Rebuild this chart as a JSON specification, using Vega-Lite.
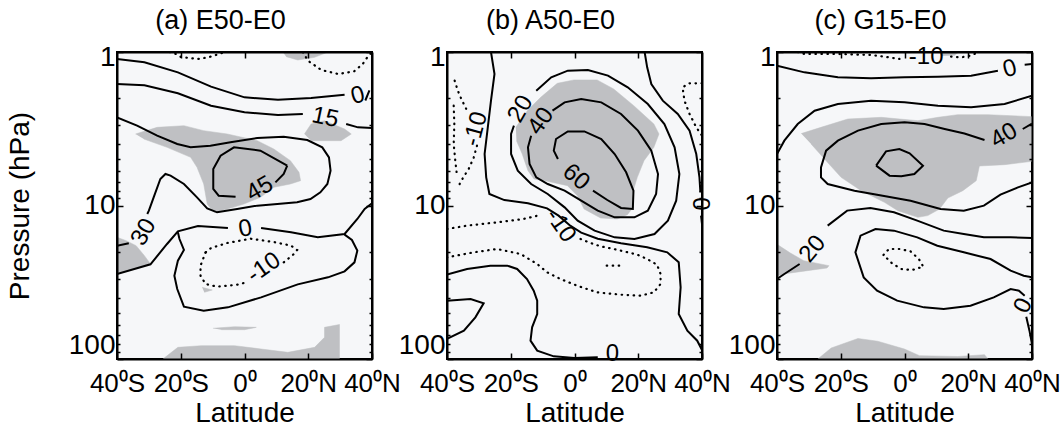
{
"$schema":"https://vega.github.io/schema/vega-lite/v6.json",
"background":"white",
"padding":{"left":5,"top":6,"right":5,"bottom":0},
"bounds":"flush",
"spacing":75,
"datasets":{
"lines":[
{"pn":"a","g":"L1","s":"s","i":0,"lat":-40,"p":1.11},{"pn":"a","g":"L1","s":"s","i":1,"lat":-31.4,"p":1.168},{"pn":"a","g":"L1","s":"s","i":2,"lat":-20.9,"p":1.357},{"pn":"a","g":"L1","s":"s","i":3,"lat":-10.5,"p":1.682},{"pn":"a","g":"L1","s":"s","i":4,"lat":0,"p":1.974},{"pn":"a","g":"L1","s":"s","i":5,"lat":10.5,"p":2.045},{"pn":"a","g":"L1","s":"s","i":6,"lat":20.9,"p":1.994},{"pn":"a","g":"L1","s":"s","i":7,"lat":31.4,"p":1.896},
{"pn":"a","g":"L1t","s":"s","i":0,"lat":37.9,"p":2.07},{"pn":"a","g":"L1t","s":"s","i":1,"lat":39.2,"p":1.78},
{"pn":"a","g":"L2","s":"s","i":0,"lat":-40,"p":1.616},{"pn":"a","g":"L2","s":"s","i":1,"lat":-31.4,"p":1.649},{"pn":"a","g":"L2","s":"s","i":2,"lat":-20.9,"p":1.858},{"pn":"a","g":"L2","s":"s","i":3,"lat":-10.5,"p":2.237},{"pn":"a","g":"L2","s":"s","i":4,"lat":0,"p":2.472},{"pn":"a","g":"L2","s":"s","i":5,"lat":10.5,"p":2.572},{"pn":"a","g":"L2","s":"s","i":6,"lat":18.3,"p":2.534},
{"pn":"a","g":"L2b","s":"s","i":0,"lat":31.9,"p":2.945},{"pn":"a","g":"L2b","s":"s","i":1,"lat":35.6,"p":3.096},{"pn":"a","g":"L2b","s":"s","i":2,"lat":40,"p":3.128},
{"pn":"a","g":"L3","s":"s","i":0,"lat":-40,"p":2.664},{"pn":"a","g":"L3","s":"s","i":1,"lat":-33.7,"p":3.019},{"pn":"a","g":"L3","s":"s","i":2,"lat":-27.4,"p":3.508},{"pn":"a","g":"L3","s":"s","i":3,"lat":-21.1,"p":3.975},{"pn":"a","g":"L3","s":"s","i":4,"lat":-16.9,"p":4.179},{"pn":"a","g":"L3","s":"s","i":5,"lat":-10.7,"p":4.076},{"pn":"a","g":"L3","s":"s","i":6,"lat":-4.4,"p":3.877},{"pn":"a","g":"L3","s":"s","i":7,"lat":4.0,"p":3.633},{"pn":"a","g":"L3","s":"s","i":8,"lat":12.3,"p":3.561},{"pn":"a","g":"L3","s":"s","i":9,"lat":19.7,"p":3.744},{"pn":"a","g":"L3","s":"s","i":10,"lat":24.4,"p":4.179},{"pn":"a","g":"L3","s":"s","i":11,"lat":26.5,"p":4.855},{"pn":"a","g":"L3","s":"s","i":12,"lat":27.0,"p":5.93},{"pn":"a","g":"L3","s":"s","i":13,"lat":26.0,"p":7.243},{"pn":"a","g":"L3","s":"s","i":14,"lat":23.8,"p":8.208},{"pn":"a","g":"L3","s":"s","i":15,"lat":20.7,"p":9.071},{"pn":"a","g":"L3","s":"s","i":16,"lat":16.5,"p":9.536},{"pn":"a","g":"L3","s":"s","i":17,"lat":10.3,"p":9.777},{"pn":"a","g":"L3","s":"s","i":18,"lat":4.0,"p":10.02},{"pn":"a","g":"L3","s":"s","i":19,"lat":-2.3,"p":10.54},{"pn":"a","g":"L3","s":"s","i":20,"lat":-8.6,"p":11.08},{"pn":"a","g":"L3","s":"s","i":21,"lat":-11.7,"p":10.43},{"pn":"a","g":"L3","s":"s","i":22,"lat":-14.9,"p":8.847},{"pn":"a","g":"L3","s":"s","i":23,"lat":-19.0,"p":7.243},{"pn":"a","g":"L3","s":"s","i":24,"lat":-23.2,"p":6.392},{"pn":"a","g":"L3","s":"s","i":25,"lat":-24.8,"p":6.234},{"pn":"a","g":"L3","s":"s","i":26,"lat":-26.4,"p":6.72},{"pn":"a","g":"L3","s":"s","i":27,"lat":-28.5,"p":8.847},{"pn":"a","g":"L3","s":"s","i":28,"lat":-30.0,"p":10.8},{"pn":"a","g":"L3","s":"s","i":29,"lat":-30.5,"p":11.36},
{"pn":"a","g":"L3b","s":"s","i":0,"lat":-36.3,"p":17.6},{"pn":"a","g":"L3b","s":"s","i":1,"lat":-40,"p":18.27},
{"pn":"a","g":"L4","s":"s","i":0,"lat":-40,"p":27.94},{"pn":"a","g":"L4","s":"s","i":1,"lat":-29.5,"p":24.17},{"pn":"a","g":"L4","s":"s","i":2,"lat":-24.3,"p":17.81},{"pn":"a","g":"L4","s":"s","i":3,"lat":-20.9,"p":14.72},{"pn":"a","g":"L4","s":"s","i":4,"lat":-14.6,"p":13.6},{"pn":"a","g":"L4","s":"s","i":5,"lat":-5.2,"p":14.01},
{"pn":"a","g":"L4b","s":"s","i":0,"lat":5.2,"p":14.01},{"pn":"a","g":"L4b","s":"s","i":1,"lat":14.6,"p":14.95},{"pn":"a","g":"L4b","s":"s","i":2,"lat":23.0,"p":16.12},{"pn":"a","g":"L4b","s":"s","i":3,"lat":31.4,"p":15.33},{"pn":"a","g":"L4b","s":"s","i":4,"lat":35.4,"p":12.24},{"pn":"a","g":"L4b","s":"s","i":5,"lat":37.7,"p":10.54},{"pn":"a","g":"L4b","s":"s","i":6,"lat":40,"p":9.68},
{"pn":"a","g":"L5","s":"s","i":0,"lat":31.4,"p":15.48},{"pn":"a","g":"L5","s":"s","i":1,"lat":33.7,"p":16.78},{"pn":"a","g":"L5","s":"s","i":2,"lat":35.4,"p":19.69},{"pn":"a","g":"L5","s":"s","i":3,"lat":34.5,"p":23.46},{"pn":"a","g":"L5","s":"s","i":4,"lat":31.4,"p":26.85},{"pn":"a","g":"L5","s":"s","i":5,"lat":26.2,"p":29.38},{"pn":"a","g":"L5","s":"s","i":6,"lat":16.7,"p":32.64},{"pn":"a","g":"L5","s":"s","i":7,"lat":5.2,"p":39.66},{"pn":"a","g":"L5","s":"s","i":8,"lat":-5.2,"p":46.08},{"pn":"a","g":"L5","s":"s","i":9,"lat":-12.8,"p":48.44},{"pn":"a","g":"L5","s":"s","i":10,"lat":-19.0,"p":45.62},{"pn":"a","g":"L5","s":"s","i":11,"lat":-21.1,"p":35.0},{"pn":"a","g":"L5","s":"s","i":12,"lat":-22.0,"p":28.65},{"pn":"a","g":"L5","s":"s","i":13,"lat":-20.9,"p":22.88},{"pn":"a","g":"L5","s":"s","i":14,"lat":-19.0,"p":19.49},{"pn":"a","g":"L5","s":"s","i":15,"lat":-20.4,"p":16.53},{"pn":"a","g":"L5","s":"s","i":16,"lat":-20.9,"p":14.95},
{"pn":"a","g":"L6a","s":"s","i":0,"lat":13.4,"p":5.502},{"pn":"a","g":"L6a","s":"s","i":1,"lat":5.0,"p":4.393},{"pn":"a","g":"L6a","s":"s","i":2,"lat":-3.3,"p":4.179},{"pn":"a","g":"L6a","s":"s","i":3,"lat":-7.5,"p":4.735},{"pn":"a","g":"L6a","s":"s","i":4,"lat":-9.8,"p":5.784},{"pn":"a","g":"L6a","s":"s","i":5,"lat":-9.8,"p":7.807},{"pn":"a","g":"L6a","s":"s","i":6,"lat":-8.1,"p":8.628},{"pn":"a","g":"L6a","s":"s","i":7,"lat":-2.8,"p":8.76},
{"pn":"a","g":"L6b","s":"s","i":0,"lat":9.7,"p":7.065},{"pn":"a","g":"L6b","s":"s","i":1,"lat":12.3,"p":6.234},{"pn":"a","g":"L6b","s":"s","i":2,"lat":13.4,"p":5.502},
{"pn":"a","g":"D1a","s":"d","i":0,"lat":-12.2,"p":20.19},{"pn":"a","g":"D1a","s":"d","i":1,"lat":-13.8,"p":24.66},{"pn":"a","g":"D1a","s":"d","i":2,"lat":-13.8,"p":28.65},{"pn":"a","g":"D1a","s":"d","i":3,"lat":-12.2,"p":32.47},{"pn":"a","g":"D1a","s":"d","i":4,"lat":-8.6,"p":33.8},{"pn":"a","g":"D1a","s":"d","i":5,"lat":-2.3,"p":32.8},{"pn":"a","g":"D1a","s":"d","i":6,"lat":1.0,"p":31.5},
{"pn":"a","g":"D1b","s":"d","i":0,"lat":12.3,"p":23.46},{"pn":"a","g":"D1b","s":"d","i":1,"lat":15.5,"p":20.7},{"pn":"a","g":"D1b","s":"d","i":2,"lat":16.5,"p":19.49},{"pn":"a","g":"D1b","s":"d","i":3,"lat":14.6,"p":18.27},{"pn":"a","g":"D1b","s":"d","i":4,"lat":9.2,"p":17.3},{"pn":"a","g":"D1b","s":"d","i":5,"lat":1.9,"p":16.45},{"pn":"a","g":"D1b","s":"d","i":6,"lat":-5.4,"p":17.55},{"pn":"a","g":"D1b","s":"d","i":7,"lat":-10.5,"p":18.92},{"pn":"a","g":"D1b","s":"d","i":8,"lat":-12.2,"p":20.19},
{"pn":"a","g":"D2","s":"d","i":0,"lat":-23.5,"p":1.0},{"pn":"a","g":"D2","s":"d","i":1,"lat":-22.1,"p":1.015},{"pn":"a","g":"D2","s":"d","i":2,"lat":-19.9,"p":1.078},{"pn":"a","g":"D2","s":"d","i":3,"lat":-17.4,"p":1.094},{"pn":"a","g":"D2","s":"d","i":4,"lat":-14.2,"p":1.11},{"pn":"a","g":"D2","s":"d","i":5,"lat":-11.0,"p":1.078},{"pn":"a","g":"D2","s":"d","i":6,"lat":-7.9,"p":1.03},{"pn":"a","g":"D2","s":"d","i":7,"lat":-6.3,"p":1.0},
{"pn":"a","g":"D3","s":"d","i":0,"lat":18.3,"p":1.0},{"pn":"a","g":"D3","s":"d","i":1,"lat":19.9,"p":1.139},{"pn":"a","g":"D3","s":"d","i":2,"lat":24.1,"p":1.31},{"pn":"a","g":"D3","s":"d","i":3,"lat":29.4,"p":1.391},{"pn":"a","g":"D3","s":"d","i":4,"lat":34.4,"p":1.336},{"pn":"a","g":"D3","s":"d","i":5,"lat":37.1,"p":1.197},{"pn":"a","g":"D3","s":"d","i":6,"lat":38.9,"p":1.056},{"pn":"a","g":"D3","s":"d","i":7,"lat":40,"p":1.005},

{"pn":"b","g":"C20","s":"s","i":0,"lat":-12.0,"p":1.786},{"pn":"b","g":"C20","s":"s","i":1,"lat":-7.3,"p":1.462},{"pn":"b","g":"C20","s":"s","i":2,"lat":-2.1,"p":1.323},{"pn":"b","g":"C20","s":"s","i":3,"lat":4.2,"p":1.31},{"pn":"b","g":"C20","s":"s","i":4,"lat":10.5,"p":1.426},{"pn":"b","g":"C20","s":"s","i":5,"lat":16.7,"p":1.699},{"pn":"b","g":"C20","s":"s","i":6,"lat":23.0,"p":2.182},{"pn":"b","g":"C20","s":"s","i":7,"lat":28.2,"p":2.945},{"pn":"b","g":"C20","s":"s","i":8,"lat":31.4,"p":4.179},{"pn":"b","g":"C20","s":"s","i":9,"lat":32.9,"p":6.234},{"pn":"b","g":"C20","s":"s","i":10,"lat":31.9,"p":9.301},{"pn":"b","g":"C20","s":"s","i":11,"lat":29.3,"p":12.55},{"pn":"b","g":"C20","s":"s","i":12,"lat":25.1,"p":15.33},{"pn":"b","g":"C20","s":"s","i":13,"lat":18.8,"p":16.53},{"pn":"b","g":"C20","s":"s","i":14,"lat":12.6,"p":16.12},{"pn":"b","g":"C20","s":"s","i":15,"lat":6.3,"p":14.58},{"pn":"b","g":"C20","s":"s","i":16,"lat":1.0,"p":12.55},{"pn":"b","g":"C20","s":"s","i":17,"lat":-3.1,"p":10.28},{"pn":"b","g":"C20","s":"s","i":18,"lat":-8.4,"p":8.415},{"pn":"b","g":"C20","s":"s","i":19,"lat":-13.6,"p":7.243},{"pn":"b","g":"C20","s":"s","i":20,"lat":-17.8,"p":5.93},{"pn":"b","g":"C20","s":"s","i":21,"lat":-19.9,"p":4.618},{"pn":"b","g":"C20","s":"s","i":22,"lat":-19.9,"p":3.421},{"pn":"b","g":"C20","s":"s","i":23,"lat":-19.0,"p":3.019},
{"pn":"b","g":"C40","s":"s","i":0,"lat":-6.9,"p":2.411},{"pn":"b","g":"C40","s":"s","i":1,"lat":-3.1,"p":2.128},{"pn":"b","g":"C40","s":"s","i":2,"lat":2.1,"p":2.024},{"pn":"b","g":"C40","s":"s","i":3,"lat":8.4,"p":2.128},{"pn":"b","g":"C40","s":"s","i":4,"lat":14.6,"p":2.534},{"pn":"b","g":"C40","s":"s","i":5,"lat":19.9,"p":3.254},{"pn":"b","g":"C40","s":"s","i":6,"lat":24.1,"p":4.393},{"pn":"b","g":"C40","s":"s","i":7,"lat":26.2,"p":6.234},{"pn":"b","g":"C40","s":"s","i":8,"lat":25.6,"p":8.415},{"pn":"b","g":"C40","s":"s","i":9,"lat":23.0,"p":10.8},{"pn":"b","g":"C40","s":"s","i":10,"lat":18.8,"p":11.94},{"pn":"b","g":"C40","s":"s","i":11,"lat":12.6,"p":11.94},{"pn":"b","g":"C40","s":"s","i":12,"lat":7.3,"p":10.8},{"pn":"b","g":"C40","s":"s","i":13,"lat":2.1,"p":9.301},{"pn":"b","g":"C40","s":"s","i":14,"lat":-3.1,"p":8.005},{"pn":"b","g":"C40","s":"s","i":15,"lat":-8.4,"p":7.243},{"pn":"b","g":"C40","s":"s","i":16,"lat":-12.0,"p":6.554},{"pn":"b","g":"C40","s":"s","i":17,"lat":-14.1,"p":5.366},{"pn":"b","g":"C40","s":"s","i":18,"lat":-14.6,"p":4.179},{"pn":"b","g":"C40","s":"s","i":19,"lat":-13.6,"p":3.508},
{"pn":"b","g":"C60","s":"s","i":0,"lat":5.8,"p":8.005},{"pn":"b","g":"C60","s":"s","i":1,"lat":10.3,"p":9.21},{"pn":"b","g":"C60","s":"s","i":2,"lat":14.6,"p":10.38},{"pn":"b","g":"C60","s":"s","i":3,"lat":18.3,"p":10.54},{"pn":"b","g":"C60","s":"s","i":4,"lat":18.5,"p":8.005},{"pn":"b","g":"C60","s":"s","i":5,"lat":16.2,"p":6.08},{"pn":"b","g":"C60","s":"s","i":6,"lat":12.6,"p":4.618},{"pn":"b","g":"C60","s":"s","i":7,"lat":8.4,"p":3.688},{"pn":"b","g":"C60","s":"s","i":8,"lat":3.1,"p":3.29},{"pn":"b","g":"C60","s":"s","i":9,"lat":-2.1,"p":3.29},{"pn":"b","g":"C60","s":"s","i":10,"lat":-5.8,"p":3.688},{"pn":"b","g":"C60","s":"s","i":11,"lat":-6.5,"p":4.393},{"pn":"b","g":"C60","s":"s","i":12,"lat":-5.2,"p":4.978},
{"pn":"b","g":"B1","s":"s","i":0,"lat":-26.2,"p":1.0},{"pn":"b","g":"B1","s":"s","i":1,"lat":-25.1,"p":1.391},{"pn":"b","g":"B1","s":"s","i":2,"lat":-26.2,"p":2.075},{"pn":"b","g":"B1","s":"s","i":3,"lat":-27.2,"p":3.096},{"pn":"b","g":"B1","s":"s","i":4,"lat":-28.2,"p":4.618},{"pn":"b","g":"B1","s":"s","i":5,"lat":-27.7,"p":6.554},{"pn":"b","g":"B1","s":"s","i":6,"lat":-26.7,"p":8.415},{"pn":"b","g":"B1","s":"s","i":7,"lat":-22.0,"p":9.22},{"pn":"b","g":"B1","s":"s","i":8,"lat":-14.6,"p":9.68},{"pn":"b","g":"B1","s":"s","i":9,"lat":-8.6,"p":10.43},{"pn":"b","g":"B1","s":"s","i":10,"lat":-5.0,"p":11.64},{"pn":"b","g":"B1","s":"s","i":11,"lat":-1.6,"p":13.4},{"pn":"b","g":"B1","s":"s","i":12,"lat":2.1,"p":15.03},{"pn":"b","g":"B1","s":"s","i":13,"lat":7.3,"p":16.45},{"pn":"b","g":"B1","s":"s","i":14,"lat":14.6,"p":17.6},{"pn":"b","g":"B1","s":"s","i":15,"lat":22.8,"p":18.73},{"pn":"b","g":"B1","s":"s","i":16,"lat":29.1,"p":20.19},{"pn":"b","g":"B1","s":"s","i":17,"lat":32.7,"p":23.46},{"pn":"b","g":"B1","s":"s","i":18,"lat":33.3,"p":34.13},{"pn":"b","g":"B1","s":"s","i":19,"lat":32.7,"p":50.92},{"pn":"b","g":"B1","s":"s","i":20,"lat":35.4,"p":65.39},{"pn":"b","g":"B1","s":"s","i":21,"lat":38.5,"p":75.97},{"pn":"b","g":"B1","s":"s","i":22,"lat":40,"p":87.4},
{"pn":"b","g":"D1a","s":"d","i":0,"lat":-40,"p":14.22},{"pn":"b","g":"D1a","s":"d","i":1,"lat":-33.7,"p":13.53},{"pn":"b","g":"D1a","s":"d","i":2,"lat":-24.3,"p":12.87},{"pn":"b","g":"D1a","s":"d","i":3,"lat":-16.0,"p":12.24},{"pn":"b","g":"D1a","s":"d","i":4,"lat":-11.5,"p":11.64},
{"pn":"b","g":"D1b","s":"d","i":0,"lat":1.9,"p":16.53},{"pn":"b","g":"D1b","s":"d","i":1,"lat":5.0,"p":17.55},{"pn":"b","g":"D1b","s":"d","i":2,"lat":8.2,"p":18.45},{"pn":"b","g":"D1b","s":"d","i":3,"lat":12.3,"p":19.2},{"pn":"b","g":"D1b","s":"d","i":4,"lat":15.5,"p":19.9},{"pn":"b","g":"D1b","s":"d","i":5,"lat":19.7,"p":20.9},{"pn":"b","g":"D1b","s":"d","i":6,"lat":22.8,"p":22.32},{"pn":"b","g":"D1b","s":"d","i":7,"lat":25.9,"p":24.3},{"pn":"b","g":"D1b","s":"d","i":8,"lat":27.0,"p":27.94},{"pn":"b","g":"D1b","s":"d","i":9,"lat":27.0,"p":32.47},{"pn":"b","g":"D1b","s":"d","i":10,"lat":24.9,"p":36.8},{"pn":"b","g":"D1b","s":"d","i":11,"lat":20.7,"p":38.68},{"pn":"b","g":"D1b","s":"d","i":12,"lat":14.4,"p":38.1},{"pn":"b","g":"D1b","s":"d","i":13,"lat":7.1,"p":36.8},{"pn":"b","g":"D1b","s":"d","i":14,"lat":0.8,"p":33.29},{"pn":"b","g":"D1b","s":"d","i":15,"lat":-4.4,"p":30.12},{"pn":"b","g":"D1b","s":"d","i":16,"lat":-8.6,"p":27.25},{"pn":"b","g":"D1b","s":"d","i":17,"lat":-11.7,"p":24.05},{"pn":"b","g":"D1b","s":"d","i":18,"lat":-16.9,"p":20.7},{"pn":"b","g":"D1b","s":"d","i":19,"lat":-24.3,"p":19.2},{"pn":"b","g":"D1b","s":"d","i":20,"lat":-31.6,"p":20.19},{"pn":"b","g":"D1b","s":"d","i":21,"lat":-40,"p":21.76},
{"pn":"b","g":"D2","s":"d","i":0,"lat":10.1,"p":24.66},{"pn":"b","g":"D2","s":"d","i":1,"lat":12.4,"p":24.66},{"pn":"b","g":"D2","s":"d","i":2,"lat":14.8,"p":24.66},
{"pn":"b","g":"B2","s":"s","i":0,"lat":-40,"p":28.2},{"pn":"b","g":"B2","s":"s","i":1,"lat":-33.7,"p":25.92},{"pn":"b","g":"B2","s":"s","i":2,"lat":-26.4,"p":24.66},{"pn":"b","g":"B2","s":"s","i":3,"lat":-21.1,"p":24.66},{"pn":"b","g":"B2","s":"s","i":4,"lat":-18.0,"p":25.92},{"pn":"b","g":"B2","s":"s","i":5,"lat":-14.9,"p":30.12},{"pn":"b","g":"B2","s":"s","i":6,"lat":-12.8,"p":35.89},{"pn":"b","g":"B2","s":"s","i":7,"lat":-11.7,"p":41.69},{"pn":"b","g":"B2","s":"s","i":8,"lat":-11.7,"p":50.92},{"pn":"b","g":"B2","s":"s","i":9,"lat":-13.3,"p":62.2},{"pn":"b","g":"B2","s":"s","i":10,"lat":-13.8,"p":75.97},{"pn":"b","g":"B2","s":"s","i":11,"lat":-11.7,"p":88.25},{"pn":"b","g":"B2","s":"s","i":12,"lat":-6.5,"p":96.1},{"pn":"b","g":"B2","s":"s","i":13,"lat":0,"p":98.5},{"pn":"b","g":"B2","s":"s","i":14,"lat":7.3,"p":97.5},
{"pn":"b","g":"B3","s":"s","i":0,"lat":-40,"p":41.69},{"pn":"b","g":"B3","s":"s","i":1,"lat":-32.6,"p":40.67},{"pn":"b","g":"B3","s":"s","i":2,"lat":-28.5,"p":43.3},{"pn":"b","g":"B3","s":"s","i":3,"lat":-31.1,"p":53.54},{"pn":"b","g":"B3","s":"s","i":4,"lat":-34.7,"p":65.39},{"pn":"b","g":"B3","s":"s","i":5,"lat":-40,"p":73.9},
{"pn":"b","g":"B4","s":"s","i":0,"lat":22.0,"p":1.0},{"pn":"b","g":"B4","s":"s","i":1,"lat":22.8,"p":1.259},{"pn":"b","g":"B4","s":"s","i":2,"lat":24.1,"p":1.616},{"pn":"b","g":"B4","s":"s","i":3,"lat":27.7,"p":2.075},{"pn":"b","g":"B4","s":"s","i":4,"lat":32.4,"p":2.534},{"pn":"b","g":"B4","s":"s","i":5,"lat":36.1,"p":3.254},{"pn":"b","g":"B4","s":"s","i":6,"lat":38.2,"p":4.618},{"pn":"b","g":"B4","s":"s","i":7,"lat":39.2,"p":6.554},{"pn":"b","g":"B4","s":"s","i":8,"lat":39.5,"p":8.21},
{"pn":"b","g":"B4b","s":"s","i":0,"lat":39.7,"p":11.64},{"pn":"b","g":"B4b","s":"s","i":1,"lat":40,"p":13.2},
{"pn":"b","g":"D3","s":"d","i":0,"lat":40,"p":1.6},{"pn":"b","g":"D3","s":"d","i":1,"lat":36.0,"p":1.6},{"pn":"b","g":"D3","s":"d","i":2,"lat":33.9,"p":1.699},{"pn":"b","g":"D3","s":"d","i":3,"lat":34.5,"p":2.075},{"pn":"b","g":"D3","s":"d","i":4,"lat":36.1,"p":2.534},{"pn":"b","g":"D3","s":"d","i":5,"lat":38.2,"p":3.096},{"pn":"b","g":"D3","s":"d","i":6,"lat":40,"p":3.51},
{"pn":"b","g":"D4a","s":"d","i":0,"lat":-37.6,"p":1.537},{"pn":"b","g":"D4a","s":"d","i":1,"lat":-36.6,"p":1.786},{"pn":"b","g":"D4a","s":"d","i":2,"lat":-35.5,"p":2.024},{"pn":"b","g":"D4a","s":"d","i":3,"lat":-33.7,"p":2.411},
{"pn":"b","g":"D4c","s":"d","i":0,"lat":-30.6,"p":4.076},{"pn":"b","g":"D4c","s":"d","i":1,"lat":-31.6,"p":4.855},{"pn":"b","g":"D4c","s":"d","i":2,"lat":-33.2,"p":5.784},{"pn":"b","g":"D4c","s":"d","i":3,"lat":-34.9,"p":6.554},{"pn":"b","g":"D4c","s":"d","i":4,"lat":-36.6,"p":7.614},
{"pn":"b","g":"D4b","s":"d","i":0,"lat":-37.9,"p":2.237},{"pn":"b","g":"D4b","s":"d","i":1,"lat":-37.7,"p":2.945},{"pn":"b","g":"D4b","s":"d","i":2,"lat":-37.9,"p":3.975},{"pn":"b","g":"D4b","s":"d","i":3,"lat":-37.4,"p":5.104},{"pn":"b","g":"D4b","s":"d","i":4,"lat":-36.8,"p":6.554},

{"pn":"c","g":"C1","s":"s","i":0,"lat":-40,"p":1.228},{"pn":"c","g":"C1","s":"s","i":1,"lat":-31.4,"p":1.357},{"pn":"c","g":"C1","s":"s","i":2,"lat":-20.9,"p":1.462},{"pn":"c","g":"C1","s":"s","i":3,"lat":-10.5,"p":1.485},{"pn":"c","g":"C1","s":"s","i":4,"lat":0,"p":1.462},{"pn":"c","g":"C1","s":"s","i":5,"lat":10.5,"p":1.448},{"pn":"c","g":"C1","s":"s","i":6,"lat":20.9,"p":1.426},{"pn":"c","g":"C1","s":"s","i":7,"lat":29.3,"p":1.323},
{"pn":"c","g":"C1b","s":"s","i":0,"lat":37.7,"p":1.209},{"pn":"c","g":"C1b","s":"s","i":1,"lat":40,"p":1.197},
{"pn":"c","g":"D1","s":"d","i":0,"lat":-33.5,"p":1.0},{"pn":"c","g":"D1","s":"d","i":1,"lat":-31.4,"p":1.03},{"pn":"c","g":"D1","s":"d","i":2,"lat":-26.2,"p":1.03},{"pn":"c","g":"D1","s":"d","i":3,"lat":-20.9,"p":1.03},{"pn":"c","g":"D1","s":"d","i":4,"lat":-14.6,"p":1.04},{"pn":"c","g":"D1","s":"d","i":5,"lat":-10.5,"p":1.046},{"pn":"c","g":"D1","s":"d","i":6,"lat":-6.3,"p":1.072},{"pn":"c","g":"D1","s":"d","i":7,"lat":-1.6,"p":1.11},
{"pn":"c","g":"D1b","s":"d","i":0,"lat":14.6,"p":1.072},{"pn":"c","g":"D1b","s":"d","i":1,"lat":17.8,"p":1.083},{"pn":"c","g":"D1b","s":"d","i":2,"lat":20.9,"p":1.056},{"pn":"c","g":"D1b","s":"d","i":3,"lat":23.0,"p":1.005},
{"pn":"c","g":"C2","s":"s","i":0,"lat":-40,"p":4.618},{"pn":"c","g":"C2","s":"s","i":1,"lat":-37.7,"p":3.781},{"pn":"c","g":"C2","s":"s","i":2,"lat":-33.5,"p":2.945},{"pn":"c","g":"C2","s":"s","i":3,"lat":-28.2,"p":2.411},{"pn":"c","g":"C2","s":"s","i":4,"lat":-20.9,"p":2.182},{"pn":"c","g":"C2","s":"s","i":5,"lat":-10.5,"p":2.075},{"pn":"c","g":"C2","s":"s","i":6,"lat":0,"p":2.128},{"pn":"c","g":"C2","s":"s","i":7,"lat":10.5,"p":2.237},{"pn":"c","g":"C2","s":"s","i":8,"lat":20.9,"p":2.293},{"pn":"c","g":"C2","s":"s","i":9,"lat":31.4,"p":2.182},{"pn":"c","g":"C2","s":"s","i":10,"lat":40,"p":1.925},
{"pn":"c","g":"C3","s":"s","i":0,"lat":25.1,"p":3.744},{"pn":"c","g":"C3","s":"s","i":1,"lat":18.8,"p":3.4},{"pn":"c","g":"C3","s":"s","i":2,"lat":12.6,"p":3.174},{"pn":"c","g":"C3","s":"s","i":3,"lat":6.3,"p":2.945},{"pn":"c","g":"C3","s":"s","i":4,"lat":0,"p":2.872},{"pn":"c","g":"C3","s":"s","i":5,"lat":-7.3,"p":2.945},{"pn":"c","g":"C3","s":"s","i":6,"lat":-14.6,"p":3.254},{"pn":"c","g":"C3","s":"s","i":7,"lat":-20.9,"p":3.781},{"pn":"c","g":"C3","s":"s","i":8,"lat":-24.6,"p":4.393},{"pn":"c","g":"C3","s":"s","i":9,"lat":-26.2,"p":5.641},{"pn":"c","g":"C3","s":"s","i":10,"lat":-26.2,"p":6.554},{"pn":"c","g":"C3","s":"s","i":11,"lat":-24.1,"p":7.243},{"pn":"c","g":"C3","s":"s","i":12,"lat":-15.7,"p":8.005},{"pn":"c","g":"C3","s":"s","i":13,"lat":-8.6,"p":8.5},{"pn":"c","g":"C3","s":"s","i":14,"lat":1.9,"p":9.301},{"pn":"c","g":"C3","s":"s","i":15,"lat":11.3,"p":10.54},{"pn":"c","g":"C3","s":"s","i":16,"lat":18.6,"p":10.8},{"pn":"c","g":"C3","s":"s","i":17,"lat":24.9,"p":10.02},{"pn":"c","g":"C3","s":"s","i":18,"lat":30.1,"p":8.5},{"pn":"c","g":"C3","s":"s","i":19,"lat":35.6,"p":7.614},{"pn":"c","g":"C3","s":"s","i":20,"lat":40,"p":7.065},
{"pn":"c","g":"C3b","s":"s","i":0,"lat":37.1,"p":3.174},{"pn":"c","g":"C3b","s":"s","i":1,"lat":40,"p":2.93},
{"pn":"c","g":"C4","s":"s","i":0,"lat":-8.9,"p":5.502},{"pn":"c","g":"C4","s":"s","i":1,"lat":-5.8,"p":4.437},{"pn":"c","g":"C4","s":"s","i":2,"lat":-1.6,"p":4.285},{"pn":"c","g":"C4","s":"s","i":3,"lat":1.6,"p":4.57},{"pn":"c","g":"C4","s":"s","i":4,"lat":5.8,"p":5.502},{"pn":"c","g":"C4","s":"s","i":5,"lat":3.1,"p":6.234},{"pn":"c","g":"C4","s":"s","i":6,"lat":-1.0,"p":6.457},{"pn":"c","g":"C4","s":"s","i":7,"lat":-4.7,"p":6.392},{"pn":"c","g":"C4","s":"s","i":8,"lat":-8.9,"p":5.502},
{"pn":"c","g":"C5a","s":"s","i":0,"lat":-24.1,"p":13.53},{"pn":"c","g":"C5a","s":"s","i":1,"lat":-18.0,"p":10.8},{"pn":"c","g":"C5a","s":"s","i":2,"lat":-10.7,"p":10.38},{"pn":"c","g":"C5a","s":"s","i":3,"lat":-3.3,"p":11.08},{"pn":"c","g":"C5a","s":"s","i":4,"lat":4.0,"p":12.55},{"pn":"c","g":"C5a","s":"s","i":5,"lat":12.3,"p":14.58},{"pn":"c","g":"C5a","s":"s","i":6,"lat":18.6,"p":15.33},{"pn":"c","g":"C5a","s":"s","i":7,"lat":24.9,"p":16.12},{"pn":"c","g":"C5a","s":"s","i":8,"lat":33.3,"p":16.12},{"pn":"c","g":"C5a","s":"s","i":9,"lat":40,"p":16.28},
{"pn":"c","g":"C5b","s":"s","i":0,"lat":-32.9,"p":24.05},{"pn":"c","g":"C5b","s":"s","i":1,"lat":-37.7,"p":27.94},{"pn":"c","g":"C5b","s":"s","i":2,"lat":-40,"p":30.12},
{"pn":"c","g":"C6","s":"s","i":0,"lat":40,"p":29.38},{"pn":"c","g":"C6","s":"s","i":1,"lat":37.4,"p":28.65},{"pn":"c","g":"C6","s":"s","i":2,"lat":33.3,"p":26.58},{"pn":"c","g":"C6","s":"s","i":3,"lat":27.0,"p":22.32},{"pn":"c","g":"C6","s":"s","i":4,"lat":18.6,"p":20.19},{"pn":"c","g":"C6","s":"s","i":5,"lat":10.3,"p":18.27},{"pn":"c","g":"C6","s":"s","i":6,"lat":4.0,"p":16.12},{"pn":"c","g":"C6","s":"s","i":7,"lat":-3.3,"p":14.58},{"pn":"c","g":"C6","s":"s","i":8,"lat":-9.1,"p":14.22},{"pn":"c","g":"C6","s":"s","i":9,"lat":-13.8,"p":15.72},{"pn":"c","g":"C6","s":"s","i":10,"lat":-15.4,"p":20.19},{"pn":"c","g":"C6","s":"s","i":11,"lat":-12.8,"p":29.38},{"pn":"c","g":"C6","s":"s","i":12,"lat":-8.6,"p":35.89},{"pn":"c","g":"C6","s":"s","i":13,"lat":-2.3,"p":41.69},{"pn":"c","g":"C6","s":"s","i":14,"lat":6.1,"p":46.08},{"pn":"c","g":"C6","s":"s","i":15,"lat":12.3,"p":47.24},{"pn":"c","g":"C6","s":"s","i":16,"lat":20.7,"p":44.94},{"pn":"c","g":"C6","s":"s","i":17,"lat":28.0,"p":39.66},{"pn":"c","g":"C6","s":"s","i":18,"lat":33.3,"p":35.0},{"pn":"c","g":"C6","s":"s","i":19,"lat":35.9,"p":35.89},{"pn":"c","g":"C6","s":"s","i":20,"lat":37.7,"p":38.68},
{"pn":"c","g":"C6b","s":"s","i":0,"lat":38.2,"p":53.0},{"pn":"c","g":"C6b","s":"s","i":1,"lat":39.2,"p":65.39},{"pn":"c","g":"C6b","s":"s","i":2,"lat":40,"p":79.86},
{"pn":"c","g":"D2","s":"d","i":0,"lat":-6.6,"p":21.0},{"pn":"c","g":"D2","s":"d","i":1,"lat":-4.9,"p":19.2},{"pn":"c","g":"D2","s":"d","i":2,"lat":-1.5,"p":19.2},{"pn":"c","g":"D2","s":"d","i":3,"lat":1.9,"p":19.9},{"pn":"c","g":"D2","s":"d","i":4,"lat":4.5,"p":22.32},{"pn":"c","g":"D2","s":"d","i":5,"lat":5.9,"p":25.03},{"pn":"c","g":"D2","s":"d","i":6,"lat":2.4,"p":26.32},{"pn":"c","g":"D2","s":"d","i":7,"lat":-1.0,"p":25.92},{"pn":"c","g":"D2","s":"d","i":8,"lat":-3.9,"p":23.81},{"pn":"c","g":"D2","s":"d","i":9,"lat":-6.6,"p":21.0}
],
"shades":[
{"pn":"a","g":"S1","i":0,"lat":12.0,"p":1.0},{"pn":"a","g":"S1","i":1,"lat":26.2,"p":1.0},{"pn":"a","g":"S1","i":2,"lat":22.0,"p":1.083},{"pn":"a","g":"S1","i":3,"lat":16.7,"p":1.128},{"pn":"a","g":"S1","i":4,"lat":13.1,"p":1.072},
{"pn":"a","g":"S2","i":0,"lat":-34.2,"p":3.421},{"pn":"a","g":"S2","i":1,"lat":-27.4,"p":3.096},{"pn":"a","g":"S2","i":2,"lat":-19.0,"p":3.019},{"pn":"a","g":"S2","i":3,"lat":-12.8,"p":3.254},{"pn":"a","g":"S2","i":4,"lat":-5.4,"p":3.421},{"pn":"a","g":"S2","i":5,"lat":4.0,"p":3.781},{"pn":"a","g":"S2","i":6,"lat":9.2,"p":4.285},{"pn":"a","g":"S2","i":7,"lat":14.4,"p":5.104},{"pn":"a","g":"S2","i":8,"lat":17.1,"p":6.08},{"pn":"a","g":"S2","i":9,"lat":17.6,"p":6.89},{"pn":"a","g":"S2","i":10,"lat":14.4,"p":7.243},{"pn":"a","g":"S2","i":11,"lat":9.2,"p":7.614},{"pn":"a","g":"S2","i":12,"lat":5.0,"p":8.847},{"pn":"a","g":"S2","i":13,"lat":-0.2,"p":9.777},{"pn":"a","g":"S2","i":14,"lat":-5.4,"p":10.54},{"pn":"a","g":"S2","i":15,"lat":-9.6,"p":11.08},{"pn":"a","g":"S2","i":16,"lat":-11.7,"p":9.777},{"pn":"a","g":"S2","i":17,"lat":-12.8,"p":7.243},{"pn":"a","g":"S2","i":18,"lat":-14.9,"p":5.641},{"pn":"a","g":"S2","i":19,"lat":-16.9,"p":4.855},{"pn":"a","g":"S2","i":20,"lat":-24.3,"p":4.179},{"pn":"a","g":"S2","i":21,"lat":-31.6,"p":3.688},
{"pn":"a","g":"S3","i":0,"lat":18.8,"p":3.421},{"pn":"a","g":"S3","i":1,"lat":20.9,"p":2.945},{"pn":"a","g":"S3","i":2,"lat":25.1,"p":2.801},{"pn":"a","g":"S3","i":3,"lat":31.4,"p":3.174},{"pn":"a","g":"S3","i":4,"lat":33.5,"p":3.421},{"pn":"a","g":"S3","i":5,"lat":30.3,"p":3.781},{"pn":"a","g":"S3","i":6,"lat":20.9,"p":3.781},
{"pn":"a","g":"S4","i":0,"lat":-40,"p":16.12},{"pn":"a","g":"S4","i":1,"lat":-37.1,"p":16.95},{"pn":"a","g":"S4","i":2,"lat":-34.0,"p":18.27},{"pn":"a","g":"S4","i":3,"lat":-31.4,"p":21.23},{"pn":"a","g":"S4","i":4,"lat":-29.5,"p":24.05},{"pn":"a","g":"S4","i":5,"lat":-34.7,"p":26.0},{"pn":"a","g":"S4","i":6,"lat":-40,"p":27.94},
{"pn":"a","g":"S5","i":0,"lat":-13.3,"p":34.13},{"pn":"a","g":"S5","i":1,"lat":-10.1,"p":35.5},{"pn":"a","g":"S5","i":2,"lat":-12.6,"p":36.8},
{"pn":"a","g":"S6","i":0,"lat":-9.9,"p":63.1},{"pn":"a","g":"S6","i":1,"lat":-3.1,"p":61.6},{"pn":"a","g":"S6","i":2,"lat":3.7,"p":62.2},{"pn":"a","g":"S6","i":3,"lat":0,"p":64.4},{"pn":"a","g":"S6","i":4,"lat":-7.3,"p":64.4},
{"pn":"a","g":"S7","i":0,"lat":-25.6,"p":100},{"pn":"a","g":"S7","i":1,"lat":-20.9,"p":83.95},{"pn":"a","g":"S7","i":2,"lat":-13.6,"p":81.88},{"pn":"a","g":"S7","i":3,"lat":-3.1,"p":81.88},{"pn":"a","g":"S7","i":4,"lat":5.2,"p":86.08},{"pn":"a","g":"S7","i":5,"lat":13.6,"p":90.49},{"pn":"a","g":"S7","i":6,"lat":22.0,"p":83.95},{"pn":"a","g":"S7","i":7,"lat":25.1,"p":72.26},{"pn":"a","g":"S7","i":8,"lat":25.1,"p":62.2},{"pn":"a","g":"S7","i":9,"lat":29.8,"p":59.6},{"pn":"a","g":"S7","i":10,"lat":29.8,"p":100},
{"pn":"b","g":"S1","i":0,"lat":-18.4,"p":3.096},{"pn":"b","g":"S1","i":1,"lat":-14.8,"p":2.411},{"pn":"b","g":"S1","i":2,"lat":-10.6,"p":1.974},{"pn":"b","g":"S1","i":3,"lat":-5.4,"p":1.6},{"pn":"b","g":"S1","i":4,"lat":-0.2,"p":1.52},{"pn":"b","g":"S1","i":5,"lat":7.1,"p":1.52},{"pn":"b","g":"S1","i":6,"lat":12.3,"p":1.742},{"pn":"b","g":"S1","i":7,"lat":18.6,"p":2.237},{"pn":"b","g":"S1","i":8,"lat":24.9,"p":2.945},{"pn":"b","g":"S1","i":9,"lat":26.5,"p":3.421},{"pn":"b","g":"S1","i":10,"lat":24.9,"p":4.179},{"pn":"b","g":"S1","i":11,"lat":21.8,"p":5.104},{"pn":"b","g":"S1","i":12,"lat":19.7,"p":6.554},{"pn":"b","g":"S1","i":13,"lat":18.1,"p":8.415},{"pn":"b","g":"S1","i":14,"lat":18.4,"p":10.28},{"pn":"b","g":"S1","i":15,"lat":16.6,"p":11.47},{"pn":"b","g":"S1","i":16,"lat":13.4,"p":12.24},{"pn":"b","g":"S1","i":17,"lat":8.2,"p":12.06},{"pn":"b","g":"S1","i":18,"lat":3.0,"p":10.54},{"pn":"b","g":"S1","i":19,"lat":0.9,"p":8.628},{"pn":"b","g":"S1","i":20,"lat":-2.2,"p":7.427},{"pn":"b","g":"S1","i":21,"lat":-8.5,"p":6.96},{"pn":"b","g":"S1","i":22,"lat":-12.7,"p":6.72},{"pn":"b","g":"S1","i":23,"lat":-14.6,"p":5.93},{"pn":"b","g":"S1","i":24,"lat":-16.4,"p":4.618},{"pn":"b","g":"S1","i":25,"lat":-18.2,"p":3.781},
{"pn":"c","g":"S1","i":0,"lat":-32.4,"p":3.4},{"pn":"c","g":"S1","i":1,"lat":-26.2,"p":3.096},{"pn":"c","g":"S1","i":2,"lat":-17.8,"p":2.732},{"pn":"c","g":"S1","i":3,"lat":-7.3,"p":2.664},{"pn":"c","g":"S1","i":4,"lat":4.2,"p":2.801},{"pn":"c","g":"S1","i":5,"lat":10.5,"p":2.664},{"pn":"c","g":"S1","i":6,"lat":16.7,"p":2.56},{"pn":"c","g":"S1","i":7,"lat":26.2,"p":2.56},{"pn":"c","g":"S1","i":8,"lat":40,"p":2.637},{"pn":"c","g":"S1","i":9,"lat":40,"p":5.156},{"pn":"c","g":"S1","i":10,"lat":31.4,"p":5.42},{"pn":"c","g":"S1","i":11,"lat":23.5,"p":5.53},{"pn":"c","g":"S1","i":12,"lat":22.5,"p":6.89},{"pn":"c","g":"S1","i":13,"lat":18.3,"p":8.005},{"pn":"c","g":"S1","i":14,"lat":13.6,"p":8.94},{"pn":"c","g":"S1","i":15,"lat":11.0,"p":10.54},{"pn":"c","g":"S1","i":16,"lat":7.3,"p":11.64},{"pn":"c","g":"S1","i":17,"lat":4.2,"p":11.94},{"pn":"c","g":"S1","i":18,"lat":-2.1,"p":10.8},{"pn":"c","g":"S1","i":19,"lat":-6.3,"p":9.536},{"pn":"c","g":"S1","i":20,"lat":-13.6,"p":8.005},{"pn":"c","g":"S1","i":21,"lat":-19.9,"p":6.554},{"pn":"c","g":"S1","i":22,"lat":-25.1,"p":4.978},{"pn":"c","g":"S1","i":23,"lat":-29.3,"p":3.975},
{"pn":"c","g":"S2","i":0,"lat":-40,"p":17.9},{"pn":"c","g":"S2","i":1,"lat":-35.8,"p":20.4},{"pn":"c","g":"S2","i":2,"lat":-31.6,"p":22.88},{"pn":"c","g":"S2","i":3,"lat":-23.7,"p":24.66},{"pn":"c","g":"S2","i":4,"lat":-24.3,"p":25.54},{"pn":"c","g":"S2","i":5,"lat":-30.5,"p":26.58},{"pn":"c","g":"S2","i":6,"lat":-36.8,"p":27.7},{"pn":"c","g":"S2","i":7,"lat":-40,"p":28.65},
{"pn":"c","g":"S3","i":0,"lat":-27.2,"p":100},{"pn":"c","g":"S3","i":1,"lat":-23.0,"p":84.8},{"pn":"c","g":"S3","i":2,"lat":-14.6,"p":73.5},{"pn":"c","g":"S3","i":3,"lat":-8.4,"p":76.6},{"pn":"c","g":"S3","i":4,"lat":0,"p":86.1},{"pn":"c","g":"S3","i":5,"lat":4.7,"p":95.1},{"pn":"c","g":"S3","i":6,"lat":16.7,"p":96.3},{"pn":"c","g":"S3","i":7,"lat":25.1,"p":93.7},{"pn":"c","g":"S3","i":8,"lat":26.2,"p":100},
{"pn":"c","g":"S4","i":0,"lat":11.0,"p":1.01},{"pn":"c","g":"S4","i":1,"lat":16.7,"p":1.01},{"pn":"c","g":"S4","i":2,"lat":15.7,"p":1.05},{"pn":"c","g":"S4","i":3,"lat":11.5,"p":1.056}
],
"labels":[
{"pn":"a","lat":35.6,"p":1.925,"t":"0","ang":-15},{"pn":"a","lat":25.3,"p":2.68,"t":"15","ang":12},{"pn":"a","lat":-31.6,"p":14.95,"t":"30","ang":-60},{"pn":"a","lat":4.8,"p":7.807,"t":"45","ang":-30},{"pn":"a","lat":0.3,"p":14.22,"t":"0","ang":-10},{"pn":"a","lat":6.1,"p":25.5,"t":"-10","ang":-35},
{"pn":"b","lat":-16.9,"p":2.351,"t":"20","ang":-60},{"pn":"b","lat":-10.5,"p":2.83,"t":"40","ang":-55},{"pn":"b","lat":0.5,"p":6.554,"t":"60","ang":40},{"pn":"b","lat":-4.4,"p":13.53,"t":"-10","ang":55},{"pn":"b","lat":-30.9,"p":3.174,"t":"-10","ang":-75},{"pn":"b","lat":39.5,"p":9.777,"t":"0","ang":90},{"pn":"b","lat":11.9,"p":92.78,"t":"0","ang":0},
{"pn":"c","lat":6.8,"p":1.083,"t":"-10","ang":0},{"pn":"c","lat":33.1,"p":1.29,"t":"0","ang":-15},{"pn":"c","lat":31.2,"p":3.508,"t":"40","ang":-30},{"pn":"c","lat":-28.8,"p":19.2,"t":"20","ang":-50},{"pn":"c","lat":37.3,"p":44.94,"t":"0","ang":-65}
]
},
"hconcat":[
{"width":255,"height":307,"title":{"text":"(a) E50-E0","dx":-24,"offset":8},
 "layer":[
  {"encoding":{
    "x":{"field":"lat","type":"quantitative","scale":{"domain":[-40,40],"nice":false,"zero":false},
      "axis":{"orient":"bottom","values":[-40,-20,0,20,40],"labelExpr":"datum.value < 0 ? (-datum.value) + '⁰S' : (datum.value > 0 ? datum.value + '⁰N' : '0⁰')","tickSize":-6,"labelPadding":17,"title":"Latitude","titlePadding":3,"labelOverlap":false,"labelFlush":false,"zindex":1}},
    "y":{"field":"p","type":"quantitative","scale":{"type":"log","domain":[1,100],"reverse":true,"nice":false},
      "axis":{"orient":"left","values":[1,2,3,4,5,6,7,8,9,10,20,30,40,50,60,70,80,90,100],"labelExpr":"(datum.value == 1 || datum.value == 10 || datum.value == 100) ? datum.value + '' : ''","tickSize":{"condition":{"test":"datum.value == 1 || datum.value == 10 || datum.value == 100","value":-6},"value":-3},"labelOffset":{"condition":{"test":"datum.value == 1","value":-9},"value":0},"labelPadding":8,"labelFontSize":28,"labelFlush":true,"labelOverlap":false,"title":"Pressure (hPa)","titlePadding":34,"zindex":1}}},
   "layer":[
    {"data":{"name":"shades"},"transform":[{"filter":"datum.pn == 'a'"}],"mark":{"type":"line","fill":"#bfc0c3","stroke":"#bfc0c3","strokeWidth":0.5,"clip":true},"encoding":{"detail":{"field":"g"},"order":{"field":"i","type":"quantitative"}}},
    {"data":{"name":"lines"},"transform":[{"filter":"datum.pn == 'a' && datum.s == 's'"}],"mark":{"type":"line","stroke":"black","strokeWidth":2,"clip":true},"encoding":{"detail":{"field":"g"},"order":{"field":"i","type":"quantitative"}}},
    {"data":{"name":"lines"},"transform":[{"filter":"datum.pn == 'a' && datum.s == 'd'"}],"mark":{"type":"line","stroke":"black","strokeWidth":2.2,"strokeDash":[0.5,5.5],"strokeCap":"round","clip":true},"encoding":{"detail":{"field":"g"},"order":{"field":"i","type":"quantitative"}}},
    {"data":{"name":"labels"},"transform":[{"filter":"datum.pn == 'a'"}],"mark":{"type":"text","fontSize":24,"font":"Liberation Sans","align":"center","baseline":"middle","color":"black"},"encoding":{"text":{"field":"t"},"angle":{"field":"ang","type":"quantitative","scale":null}}}
   ]},
  {"data":{"name":"labels"},"transform":[{"filter":"datum.pn == 'a'"}],"mark":{"type":"point","opacity":0},
   "encoding":{"x":{"field":"lat","type":"quantitative","axis":{"orient":"top","values":[-20,0,20],"labels":false,"title":null,"tickSize":-6,"zindex":1}},
     "y":{"field":"p","type":"quantitative","axis":{"orient":"right","values":[1,2,3,4,5,6,7,8,9,10,20,30,40,50,60,70,80,90,100],"labels":false,"title":null,"tickSize":{"condition":{"test":"datum.value == 1 || datum.value == 10 || datum.value == 100","value":-6},"value":-3},"zindex":1}}}}
 ],
 "resolve":{"axis":{"x":"independent","y":"independent"}}},
{"width":255,"height":307,"title":{"text":"(b) A50-E0","dx":-24,"offset":8},
 "layer":[
  {"encoding":{
    "x":{"field":"lat","type":"quantitative","scale":{"domain":[-40,40],"nice":false,"zero":false},
      "axis":{"orient":"bottom","values":[-40,-20,0,20,40],"labelExpr":"datum.value < 0 ? (-datum.value) + '⁰S' : (datum.value > 0 ? datum.value + '⁰N' : '0⁰')","tickSize":-6,"labelPadding":17,"title":"Latitude","titlePadding":3,"labelOverlap":false,"labelFlush":false,"zindex":1}},
    "y":{"field":"p","type":"quantitative","scale":{"type":"log","domain":[1,100],"reverse":true,"nice":false},
      "axis":{"orient":"left","values":[1,2,3,4,5,6,7,8,9,10,20,30,40,50,60,70,80,90,100],"labelExpr":"(datum.value == 1 || datum.value == 10 || datum.value == 100) ? datum.value + '' : ''","tickSize":{"condition":{"test":"datum.value == 1 || datum.value == 10 || datum.value == 100","value":-6},"value":-3},"labelOffset":{"condition":{"test":"datum.value == 1","value":-9},"value":0},"labelPadding":8,"labelFontSize":28,"labelFlush":true,"labelOverlap":false,"title":null,"zindex":1}}},
   "layer":[
    {"data":{"name":"shades"},"transform":[{"filter":"datum.pn == 'b'"}],"mark":{"type":"line","fill":"#bfc0c3","stroke":"#bfc0c3","strokeWidth":0.5,"clip":true},"encoding":{"detail":{"field":"g"},"order":{"field":"i","type":"quantitative"}}},
    {"data":{"name":"lines"},"transform":[{"filter":"datum.pn == 'b' && datum.s == 's'"}],"mark":{"type":"line","stroke":"black","strokeWidth":2,"clip":true},"encoding":{"detail":{"field":"g"},"order":{"field":"i","type":"quantitative"}}},
    {"data":{"name":"lines"},"transform":[{"filter":"datum.pn == 'b' && datum.s == 'd'"}],"mark":{"type":"line","stroke":"black","strokeWidth":2.2,"strokeDash":[0.5,5.5],"strokeCap":"round","clip":true},"encoding":{"detail":{"field":"g"},"order":{"field":"i","type":"quantitative"}}},
    {"data":{"name":"labels"},"transform":[{"filter":"datum.pn == 'b'"}],"mark":{"type":"text","fontSize":24,"font":"Liberation Sans","align":"center","baseline":"middle","color":"black"},"encoding":{"text":{"field":"t"},"angle":{"field":"ang","type":"quantitative","scale":null}}}
   ]},
  {"data":{"name":"labels"},"transform":[{"filter":"datum.pn == 'b'"}],"mark":{"type":"point","opacity":0},
   "encoding":{"x":{"field":"lat","type":"quantitative","axis":{"orient":"top","values":[-20,0,20],"labels":false,"title":null,"tickSize":-6,"zindex":1}},
     "y":{"field":"p","type":"quantitative","axis":{"orient":"right","values":[1,2,3,4,5,6,7,8,9,10,20,30,40,50,60,70,80,90,100],"labels":false,"title":null,"tickSize":{"condition":{"test":"datum.value == 1 || datum.value == 10 || datum.value == 100","value":-6},"value":-3},"zindex":1}}}}
 ],
 "resolve":{"axis":{"x":"independent","y":"independent"}}},
{"width":255,"height":307,"title":{"text":"(c) G15-E0","dx":-24,"offset":8},
 "layer":[
  {"encoding":{
    "x":{"field":"lat","type":"quantitative","scale":{"domain":[-40,40],"nice":false,"zero":false},
      "axis":{"orient":"bottom","values":[-40,-20,0,20,40],"labelExpr":"datum.value < 0 ? (-datum.value) + '⁰S' : (datum.value > 0 ? datum.value + '⁰N' : '0⁰')","tickSize":-6,"labelPadding":17,"title":"Latitude","titlePadding":3,"labelOverlap":false,"labelFlush":false,"zindex":1}},
    "y":{"field":"p","type":"quantitative","scale":{"type":"log","domain":[1,100],"reverse":true,"nice":false},
      "axis":{"orient":"left","values":[1,2,3,4,5,6,7,8,9,10,20,30,40,50,60,70,80,90,100],"labelExpr":"(datum.value == 1 || datum.value == 10 || datum.value == 100) ? datum.value + '' : ''","tickSize":{"condition":{"test":"datum.value == 1 || datum.value == 10 || datum.value == 100","value":-6},"value":-3},"labelOffset":{"condition":{"test":"datum.value == 1","value":-9},"value":0},"labelPadding":8,"labelFontSize":28,"labelFlush":true,"labelOverlap":false,"title":null,"zindex":1}}},
   "layer":[
    {"data":{"name":"shades"},"transform":[{"filter":"datum.pn == 'c'"}],"mark":{"type":"line","fill":"#bfc0c3","stroke":"#bfc0c3","strokeWidth":0.5,"clip":true},"encoding":{"detail":{"field":"g"},"order":{"field":"i","type":"quantitative"}}},
    {"data":{"name":"lines"},"transform":[{"filter":"datum.pn == 'c' && datum.s == 's'"}],"mark":{"type":"line","stroke":"black","strokeWidth":2,"clip":true},"encoding":{"detail":{"field":"g"},"order":{"field":"i","type":"quantitative"}}},
    {"data":{"name":"lines"},"transform":[{"filter":"datum.pn == 'c' && datum.s == 'd'"}],"mark":{"type":"line","stroke":"black","strokeWidth":2.2,"strokeDash":[0.5,5.5],"strokeCap":"round","clip":true},"encoding":{"detail":{"field":"g"},"order":{"field":"i","type":"quantitative"}}},
    {"data":{"name":"labels"},"transform":[{"filter":"datum.pn == 'c'"}],"mark":{"type":"text","fontSize":24,"font":"Liberation Sans","align":"center","baseline":"middle","color":"black"},"encoding":{"text":{"field":"t"},"angle":{"field":"ang","type":"quantitative","scale":null}}}
   ]},
  {"data":{"name":"labels"},"transform":[{"filter":"datum.pn == 'c'"}],"mark":{"type":"point","opacity":0},
   "encoding":{"x":{"field":"lat","type":"quantitative","axis":{"orient":"top","values":[-20,0,20],"labels":false,"title":null,"tickSize":-6,"zindex":1}},
     "y":{"field":"p","type":"quantitative","axis":{"orient":"right","values":[1,2,3,4,5,6,7,8,9,10,20,30,40,50,60,70,80,90,100],"labels":false,"title":null,"tickSize":{"condition":{"test":"datum.value == 1 || datum.value == 10 || datum.value == 100","value":-6},"value":-3},"zindex":1}}}}
 ],
 "resolve":{"axis":{"x":"independent","y":"independent"}}}
],
"config":{
 "view":{"stroke":"black","strokeWidth":2,"fill":"#f6f7f9"},
 "axis":{"domain":true,"domainColor":"black","domainWidth":2,"grid":false,"ticks":true,"tickColor":"black","tickWidth":1.5,"labelColor":"black","titleColor":"black","labelFont":"Liberation Sans","titleFont":"Liberation Sans","labelFontSize":26,"titleFontSize":28,"titleFontWeight":"normal"},
 "title":{"font":"Liberation Sans","fontSize":27,"fontWeight":"normal","color":"black","anchor":"middle"},
 "text":{"font":"Liberation Sans"}
}
}
